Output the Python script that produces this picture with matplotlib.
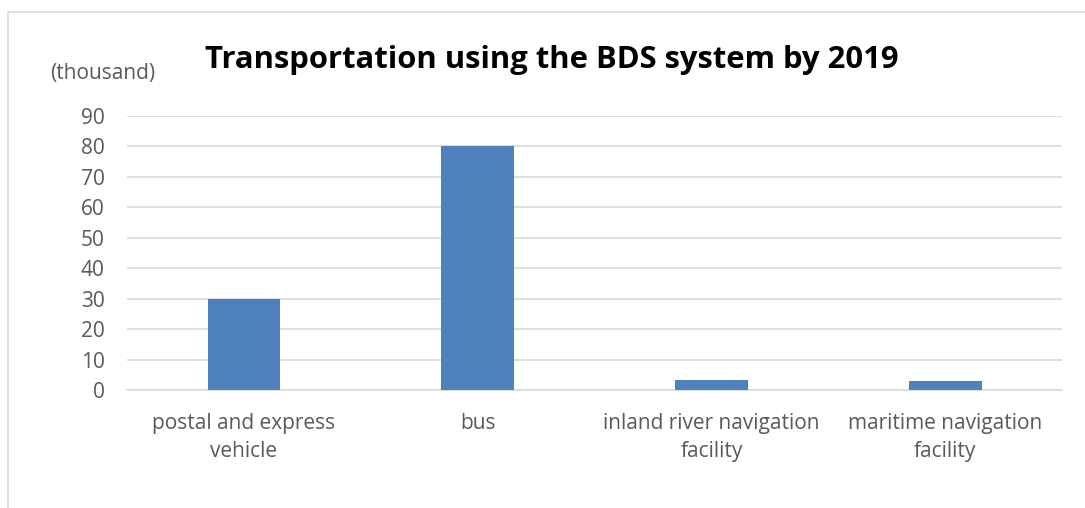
import numpy as np
import matplotlib.pyplot as plt
from matplotlib.patches import Rectangle

# values in thousands
categories = ['postal and express\nvehicle', 'bus',
              'inland river navigation\nfacility', 'maritime navigation\nfacility']
values = [30, 80, 3.2, 2.8]
yticks = list(range(0, 100, 10))

plt.rcParams['font.family'] = ['Open Sans', 'DejaVu Sans']

fig = plt.figure(figsize=(10.85, 5.08), dpi=100)
ax = fig.add_axes([0.117, 0.2323, 0.862, 0.5394])

x = np.arange(len(categories))
ax.bar(x, values, width=0.31, color='#4f81bd', zorder=3)

ax.set_xlim(-0.5, len(categories) - 0.5)
ax.set_ylim(0, 90)
ax.set_yticks(yticks)
ax.set_xticks(x)
ax.set_xticklabels(categories, linespacing=1.45)

ax.grid(axis='y', color='#d9d9d9', linewidth=1.2, zorder=0)
for side in ['top', 'right', 'left']:
    ax.spines[side].set_visible(False)
ax.spines['bottom'].set_color('#d9d9d9')
ax.spines['bottom'].set_linewidth(1.2)
ax.tick_params(axis='both', length=0, labelsize=15, labelcolor='#595959')
ax.tick_params(axis='y', pad=16)
ax.tick_params(axis='x', pad=16.5)

fig.text(0.509, 0.882, 'Transportation using the BDS system by 2019',
         ha='center', va='center', fontsize=22.3, fontweight='bold', color='black')
fig.text(0.0945, 0.855, '(thousand)', ha='center', va='center',
         fontsize=15, color='#595959')

# chart border
fig.patches.append(Rectangle((7.5 / 1085, -0.1), 1.1, (508 - 12) / 508 + 0.1,
                             transform=fig.transFigure, fill=False,
                             edgecolor='#d9d9d9', linewidth=1.2))

fig.savefig('out.png', dpi=100)
